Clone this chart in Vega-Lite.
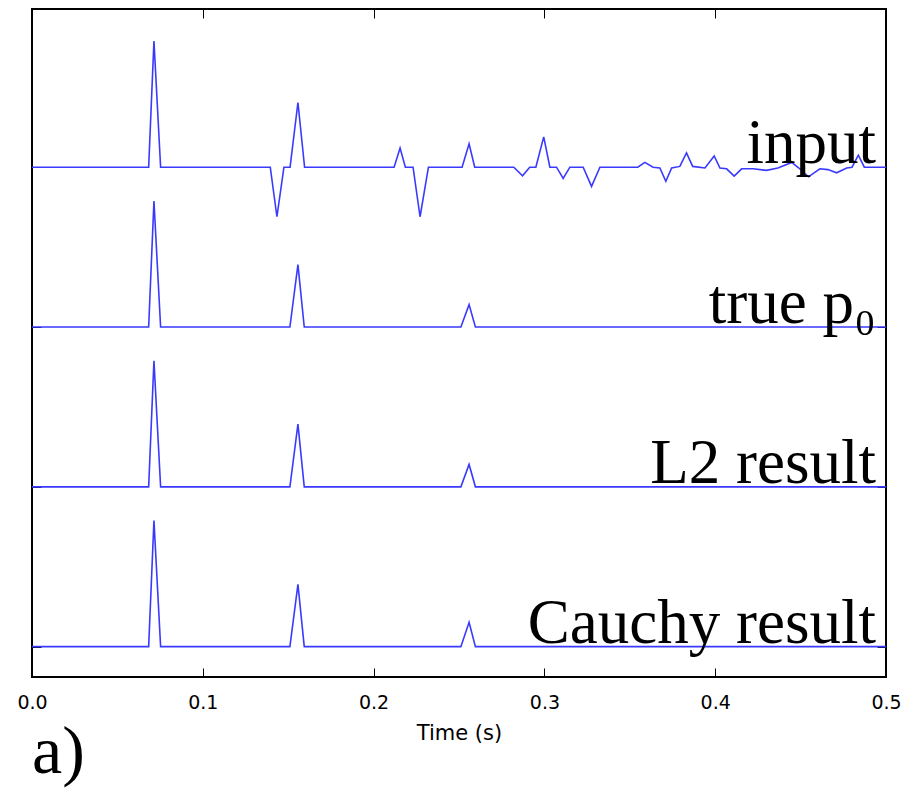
{
  "$schema": "https://vega.github.io/schema/vega-lite/v6.json",
  "width": 854,
  "height": 668,
  "autosize": {"type": "none"},
  "padding": {"left": 32, "top": 9, "right": 19, "bottom": 113},
  "background": "white",
  "title": {
    "text": "a)",
    "orient": "bottom",
    "anchor": "start",
    "frame": "group",
    "font": "Liberation Serif",
    "fontSize": 68,
    "fontWeight": "normal",
    "color": "#000",
    "baseline": "alphabetic",
    "offset": 30
  },
  "config": {
    "view": {"stroke": "#000", "strokeWidth": 2},
    "axis": {"grid": false, "domain": false, "tickColor": "#000", "tickWidth": 1}
  },
  "datasets": {
    "traces": [
      {"s": "input", "t": 0.0, "v": 3},
      {"s": "input", "t": 0.0683, "v": 3},
      {"s": "input", "t": 0.0714, "v": 3.79},
      {"s": "input", "t": 0.0753, "v": 3},
      {"s": "input", "t": 0.1395, "v": 3},
      {"s": "input", "t": 0.1434, "v": 2.69},
      {"s": "input", "t": 0.1475, "v": 3},
      {"s": "input", "t": 0.1511, "v": 3},
      {"s": "input", "t": 0.1557, "v": 3.405},
      {"s": "input", "t": 0.1596, "v": 3},
      {"s": "input", "t": 0.212, "v": 3},
      {"s": "input", "t": 0.2155, "v": 3.12},
      {"s": "input", "t": 0.2186, "v": 3},
      {"s": "input", "t": 0.2231, "v": 3},
      {"s": "input", "t": 0.2272, "v": 2.69},
      {"s": "input", "t": 0.2321, "v": 3},
      {"s": "input", "t": 0.2518, "v": 3},
      {"s": "input", "t": 0.2559, "v": 3.146},
      {"s": "input", "t": 0.2592, "v": 3},
      {"s": "input", "t": 0.2821, "v": 3},
      {"s": "input", "t": 0.2872, "v": 2.946},
      {"s": "input", "t": 0.2914, "v": 3},
      {"s": "input", "t": 0.295, "v": 3},
      {"s": "input", "t": 0.2996, "v": 3.19},
      {"s": "input", "t": 0.3032, "v": 3},
      {"s": "input", "t": 0.3071, "v": 3},
      {"s": "input", "t": 0.311, "v": 2.93},
      {"s": "input", "t": 0.3149, "v": 3},
      {"s": "input", "t": 0.3227, "v": 3},
      {"s": "input", "t": 0.3276, "v": 2.88},
      {"s": "input", "t": 0.3325, "v": 3},
      {"s": "input", "t": 0.3547, "v": 3},
      {"s": "input", "t": 0.3588, "v": 3.03},
      {"s": "input", "t": 0.3636, "v": 3},
      {"s": "input", "t": 0.3676, "v": 2.995},
      {"s": "input", "t": 0.3711, "v": 2.912},
      {"s": "input", "t": 0.3745, "v": 2.995},
      {"s": "input", "t": 0.3793, "v": 3.005},
      {"s": "input", "t": 0.3832, "v": 3.09},
      {"s": "input", "t": 0.3868, "v": 3.005},
      {"s": "input", "t": 0.394, "v": 2.995},
      {"s": "input", "t": 0.3994, "v": 3.07},
      {"s": "input", "t": 0.4028, "v": 2.995},
      {"s": "input", "t": 0.4067, "v": 2.99},
      {"s": "input", "t": 0.4111, "v": 2.944},
      {"s": "input", "t": 0.4155, "v": 2.99},
      {"s": "input", "t": 0.4223, "v": 2.99},
      {"s": "input", "t": 0.4301, "v": 2.98},
      {"s": "input", "t": 0.4367, "v": 2.995},
      {"s": "input", "t": 0.4448, "v": 3.03},
      {"s": "input", "t": 0.449, "v": 2.995},
      {"s": "input", "t": 0.4546, "v": 2.94},
      {"s": "input", "t": 0.4613, "v": 2.99},
      {"s": "input", "t": 0.466, "v": 2.985},
      {"s": "input", "t": 0.4711, "v": 2.965},
      {"s": "input", "t": 0.477, "v": 2.995},
      {"s": "input", "t": 0.4801, "v": 3},
      {"s": "input", "t": 0.4838, "v": 3.075},
      {"s": "input", "t": 0.4873, "v": 3},
      {"s": "input", "t": 0.5, "v": 3},
      {"s": "true", "t": 0.0, "v": 2},
      {"s": "true", "t": 0.0683, "v": 2},
      {"s": "true", "t": 0.0714, "v": 2.789},
      {"s": "true", "t": 0.0753, "v": 2},
      {"s": "true", "t": 0.151, "v": 2},
      {"s": "true", "t": 0.1557, "v": 2.39},
      {"s": "true", "t": 0.1594, "v": 2},
      {"s": "true", "t": 0.2511, "v": 2},
      {"s": "true", "t": 0.2559, "v": 2.14},
      {"s": "true", "t": 0.2596, "v": 2},
      {"s": "true", "t": 0.5, "v": 2},
      {"s": "L2", "t": 0.0, "v": 1},
      {"s": "L2", "t": 0.0683, "v": 1},
      {"s": "L2", "t": 0.0714, "v": 1.789},
      {"s": "L2", "t": 0.0753, "v": 1},
      {"s": "L2", "t": 0.151, "v": 1},
      {"s": "L2", "t": 0.1557, "v": 1.392},
      {"s": "L2", "t": 0.1594, "v": 1},
      {"s": "L2", "t": 0.2511, "v": 1},
      {"s": "L2", "t": 0.2559, "v": 1.14},
      {"s": "L2", "t": 0.2596, "v": 1},
      {"s": "L2", "t": 0.5, "v": 1},
      {"s": "Cauchy", "t": 0.0, "v": 0},
      {"s": "Cauchy", "t": 0.0683, "v": 0},
      {"s": "Cauchy", "t": 0.0714, "v": 0.789},
      {"s": "Cauchy", "t": 0.0753, "v": 0},
      {"s": "Cauchy", "t": 0.151, "v": 0},
      {"s": "Cauchy", "t": 0.1557, "v": 0.39},
      {"s": "Cauchy", "t": 0.1594, "v": 0},
      {"s": "Cauchy", "t": 0.2511, "v": 0},
      {"s": "Cauchy", "t": 0.2559, "v": 0.152},
      {"s": "Cauchy", "t": 0.2596, "v": 0},
      {"s": "Cauchy", "t": 0.5, "v": 0}
    ],
    "labels": [
      {"label": "input", "pos": 3},
      {"label": "true p₀", "pos": 2},
      {"label": "L2 result", "pos": 1},
      {"label": "Cauchy result", "pos": 0}
    ]
  },
  "layer": [
    {
      "data": {"name": "traces"},
      "mark": {"type": "line", "color": "#3a3aff", "strokeWidth": 1.6, "interpolate": "linear"},
      "encoding": {
        "x": {
          "field": "t", "type": "quantitative",
          "scale": {"domain": [0, 0.5], "nice": false, "zero": false},
          "axis": {
            "orient": "bottom",
            "title": "Time (s)",
            "values": [0, 0.1, 0.2, 0.3, 0.4, 0.5],
            "format": ".1f",
            "tickSize": -9,
            "labelPadding": 25,
            "labelFont": "DejaVu Sans",
            "labelFontSize": 19,
            "labelColor": "#000",
            "labelFlush": false,
            "titleFont": "DejaVu Sans",
            "titleFontSize": 21,
            "titleFontWeight": "normal",
            "titleColor": "#000",
            "titlePadding": 10
          }
        },
        "y": {
          "field": "v", "type": "quantitative",
          "scale": {"domain": [-0.19, 3.99], "nice": false, "zero": false},
          "axis": {"orient": "left", "title": null, "labels": false, "values": [0, 1, 2, 3], "tickSize": -9}
        },
        "detail": {"field": "s"}
      }
    },
    {
      "data": {"name": "labels"},
      "mark": {"type": "text", "align": "right", "baseline": "alphabetic", "dx": -10, "dy": -4, "font": "Liberation Serif", "fontSize": 63, "color": "#000"},
      "encoding": {
        "x": {
          "datum": 0.5, "type": "quantitative",
          "axis": {"orient": "top", "title": null, "labels": false, "values": [0, 0.1, 0.2, 0.3, 0.4, 0.5], "tickSize": -9}
        },
        "y": {
          "field": "pos", "type": "quantitative",
          "axis": {"orient": "right", "title": null, "labels": false, "values": [0, 1, 2, 3], "tickSize": -9}
        },
        "text": {"field": "label"}
      }
    }
  ],
  "resolve": {"axis": {"x": "independent", "y": "independent"}}
}
